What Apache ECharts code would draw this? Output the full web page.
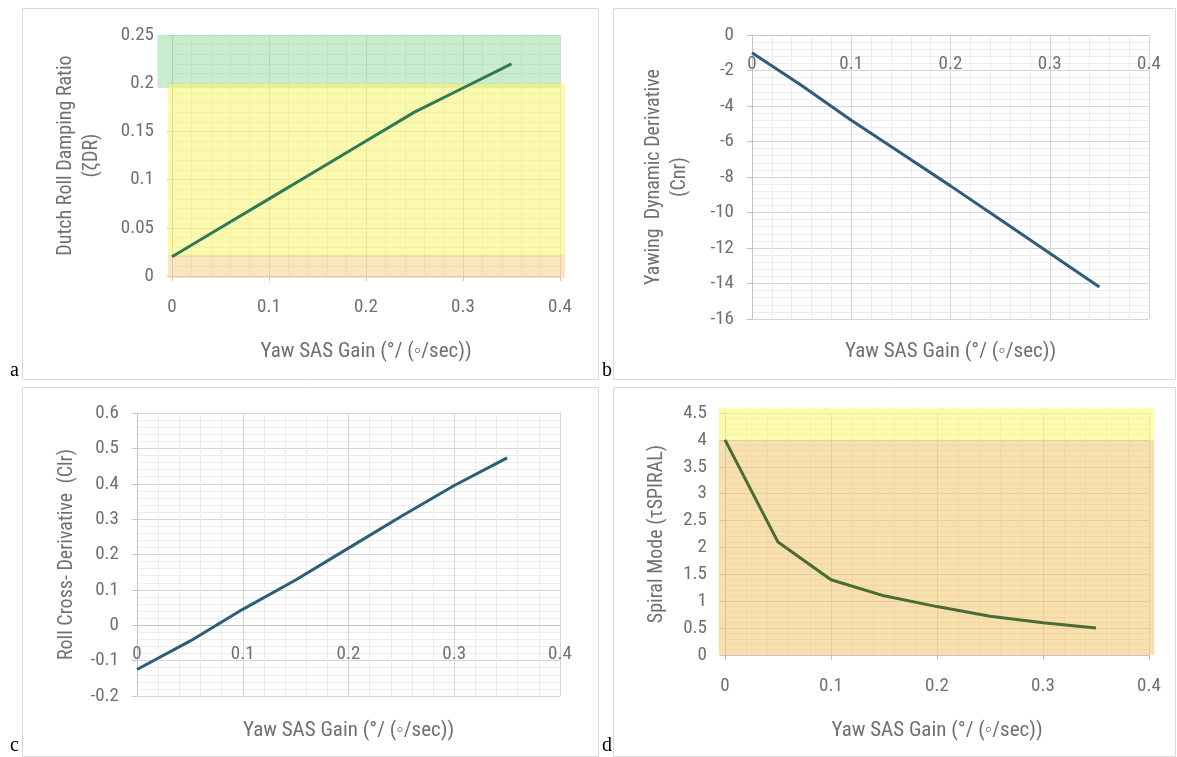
<!DOCTYPE html>
<html>
<head>
<meta charset="utf-8">
<script src="https://cdn.jsdelivr.net/npm/echarts@6/dist/echarts.min.js"></script>
<style>
html,body{margin:0;padding:0;background:#fff;}
#main{width:1177px;height:757px;}
</style>
</head>
<body>
<div id="main"></div>
<script>
// ---- data ----
var gain = [0, 0.05, 0.1, 0.15, 0.2, 0.25, 0.3, 0.35];
var dampingRatio = [0.02, 0.05, 0.08, 0.11, 0.14, 0.17, 0.195, 0.22];
var yawingDerivative = [-1, -2.85, -4.8, -6.65, -8.5, -10.4, -12.3, -14.2];
var rollCrossDerivative = [-0.125, -0.045, 0.045, 0.128, 0.218, 0.308, 0.395, 0.473];
var spiralMode = [4.0, 2.1, 1.4, 1.1, 0.9, 0.72, 0.6, 0.5];

var xTitle = 'Yaw SAS Gain (°/ (◦/sec))';
var yTitles = ['Dutch Roll Damping Ratio\n(ζDR)', 'Yawing  Dynamic Derivative\n(Cnr)', 'Roll Cross- Derivative  (Clr)', 'Spiral Mode (τSPIRAL)'];
var panelLetters = ['a', 'b', 'c', 'd'];

// shaded regions [x0, x1, y0, y1]
var bandsA = [[-0.015, 0.4, 0.195, 0.25], [-0.004, 0.405, 0.02, 0.2], [-0.004, 0.405, -0.002, 0.022]];
var bandColorsA = ['rgba(150,218,158,0.5)', 'rgba(248,244,115,0.58)', 'rgba(244,208,130,0.52)'];
var bandsD = [[-0.006, 0.405, 4.0, 4.6], [-0.006, 0.405, 0, 4.0]];
var bandColorsD = ['rgba(250,248,120,0.6)', 'rgba(241,200,110,0.56)'];

var FONT = "'Liberation Sans Narrow', 'Roboto Condensed', 'Liberation Sans', Arial, sans-serif";
var TXT = '#707070';
var AXIS = '#c4c4c4';

var chart = echarts.init(document.getElementById('main'), null, {renderer: 'canvas'});

var grids = [
  {left: 172, top: 35, width: 388, height: 241},
  {left: 752, top: 35, width: 397, height: 284},
  {left: 137, top: 413, width: 423, height: 283},
  {left: 725, top: 413, width: 424, height: 242},
  // helper grids carrying the x axis at y = 0 for panels b and c (top fixed below)
  {left: 752, top: 35, width: 397, height: 284},
  {left: 137, top: 413, width: 423, height: 283}
];

function gridLines() {
  return {
    splitLine: {show: true, lineStyle: {color: '#d6d6d6', width: 1}},
    minorTick: {show: false, splitNumber: 5},
    minorSplitLine: {show: true, lineStyle: {color: '#ececec', width: 1}}
  };
}
function mainX(g, labelled) {
  return Object.assign({
    type: 'value', gridIndex: g, min: 0, max: 0.4, interval: 0.1, position: 'bottom',
    axisLine: {show: labelled, onZero: false, lineStyle: {color: AXIS, width: 1}},
    axisTick: {show: labelled, length: 5, lineStyle: {color: AXIS}},
    axisLabel: {show: labelled, color: TXT, fontSize: 19, fontFamily: FONT, margin: 22}
  }, gridLines());
}
function zeroX(g) {
  return {
    type: 'value', gridIndex: g, min: 0, max: 0.4, interval: 0.1, position: 'top',
    axisLine: {show: true, onZero: false, lineStyle: {color: AXIS, width: 1}},
    axisTick: {show: false},
    axisLabel: {show: true, inside: true, color: TXT, fontSize: 19, fontFamily: FONT, margin: 20},
    splitLine: {show: false}
  };
}
function titleX(g, gap) {
  return {
    type: 'value', gridIndex: g, min: 0, max: 0.4, position: 'bottom',
    axisLine: {show: false, onZero: false}, axisTick: {show: false},
    axisLabel: {show: false}, splitLine: {show: false},
    name: xTitle, nameLocation: 'middle', nameGap: gap,
    nameTextStyle: {color: TXT, fontSize: 21, fontFamily: FONT}
  };
}
function mainY(g, min, max, interval, title, gap) {
  return Object.assign({
    type: 'value', gridIndex: g, min: min, max: max, interval: interval,
    axisLine: {show: true, onZero: false, lineStyle: {color: AXIS, width: 1}},
    axisTick: {show: true, length: 5, lineStyle: {color: AXIS}},
    axisLabel: {color: TXT, fontSize: 19, fontFamily: FONT, margin: 18},
    name: title, nameLocation: 'middle', nameGap: gap, nameRotate: 90,
    nameTextStyle: {color: TXT, fontSize: 20, fontFamily: FONT, lineHeight: 26}
  }, gridLines());
}
function hiddenY(g) {
  return {type: 'value', gridIndex: g, min: 0, max: 1, show: false, splitLine: {show: false}};
}

function bandSeries(xi, yi, bands, colors) {
  return {
    type: 'custom', xAxisIndex: xi, yAxisIndex: yi, silent: true, z: 1,
    data: bands,
    renderItem: function (params, api) {
      var p0 = api.coord([api.value(0), api.value(3)]);
      var p1 = api.coord([api.value(1), api.value(2)]);
      return {type: 'rect', shape: {x: p0[0], y: p0[1], width: p1[0] - p0[0], height: p1[1] - p0[1]},
              style: {fill: colors[params.dataIndex]}};
    }
  };
}
function lineSeries(xi, yi, vals, color) {
  return {
    type: 'line', xAxisIndex: xi, yAxisIndex: yi, z: 5,
    data: gain.map(function (g, i) { return [g, vals[i]]; }),
    showSymbol: false, symbol: 'none', smooth: false,
    lineStyle: {color: color, width: 3}
  };
}

var frames = [[22, 8, 576, 371], [613, 8, 562, 371], [22, 387, 576, 369], [613, 387, 562, 369]];
var letterPos = [[10, 381], [602, 381], [10, 756], [602, 756]];
var graphics = [];
frames.forEach(function (f) {
  graphics.push({type: 'rect', shape: {x: f[0] + 0.5, y: f[1] + 0.5, width: f[2], height: f[3]},
    style: {fill: null, stroke: '#d9d9d9', lineWidth: 1}, silent: true, z: -10});
});
panelLetters.forEach(function (l, i) {
  graphics.push({type: 'text', x: letterPos[i][0], y: letterPos[i][1],
    style: {text: l, fill: '#000', font: "20px 'Liberation Serif', 'DejaVu Serif', serif", textVerticalAlign: 'bottom'}});
});

chart.setOption({
  animation: false,
  backgroundColor: '#fff',
  grid: grids,
  xAxis: [mainX(0, true), mainX(1, false), mainX(2, false), mainX(3, true),
          titleX(0, 65), titleX(4, 22), titleX(5, 24), titleX(3, 65),
          zeroX(4), zeroX(5)],
  yAxis: [mainY(0, 0, 0.25, 0.05, yTitles[0], 67),
          mainY(1, -16, 0, 2, yTitles[1], 59),
          mainY(2, -0.2, 0.6, 0.1, yTitles[2], 57),
          mainY(3, 0, 4.5, 0.5, yTitles[3], 55),
          hiddenY(4), hiddenY(5)],
  series: [
    bandSeries(0, 0, bandsA, bandColorsA),
    bandSeries(3, 3, bandsD, bandColorsD),
    lineSeries(0, 0, dampingRatio, '#2d7a58'),
    lineSeries(1, 1, yawingDerivative, '#2a5f76'),
    lineSeries(2, 2, rollCrossDerivative, '#2a5f76'),
    lineSeries(3, 3, spiralMode, '#4a6a36')
  ],
  graphic: graphics
});

// place the helper grids so that their top edge sits on y = 0 of panels b and c
var zeroB = chart.convertToPixel({yAxisIndex: 1}, 0);
var zeroC = chart.convertToPixel({yAxisIndex: 2}, 0);
var bottomB = grids[1].top + grids[1].height;
var bottomC = grids[2].top + grids[2].height;
chart.setOption({
  grid: [{}, {}, {}, {},
         {top: Math.round(zeroB), height: bottomB - Math.round(zeroB)},
         {top: Math.round(zeroC), height: bottomC - Math.round(zeroC)}]
});
</script>
</body>
</html>
